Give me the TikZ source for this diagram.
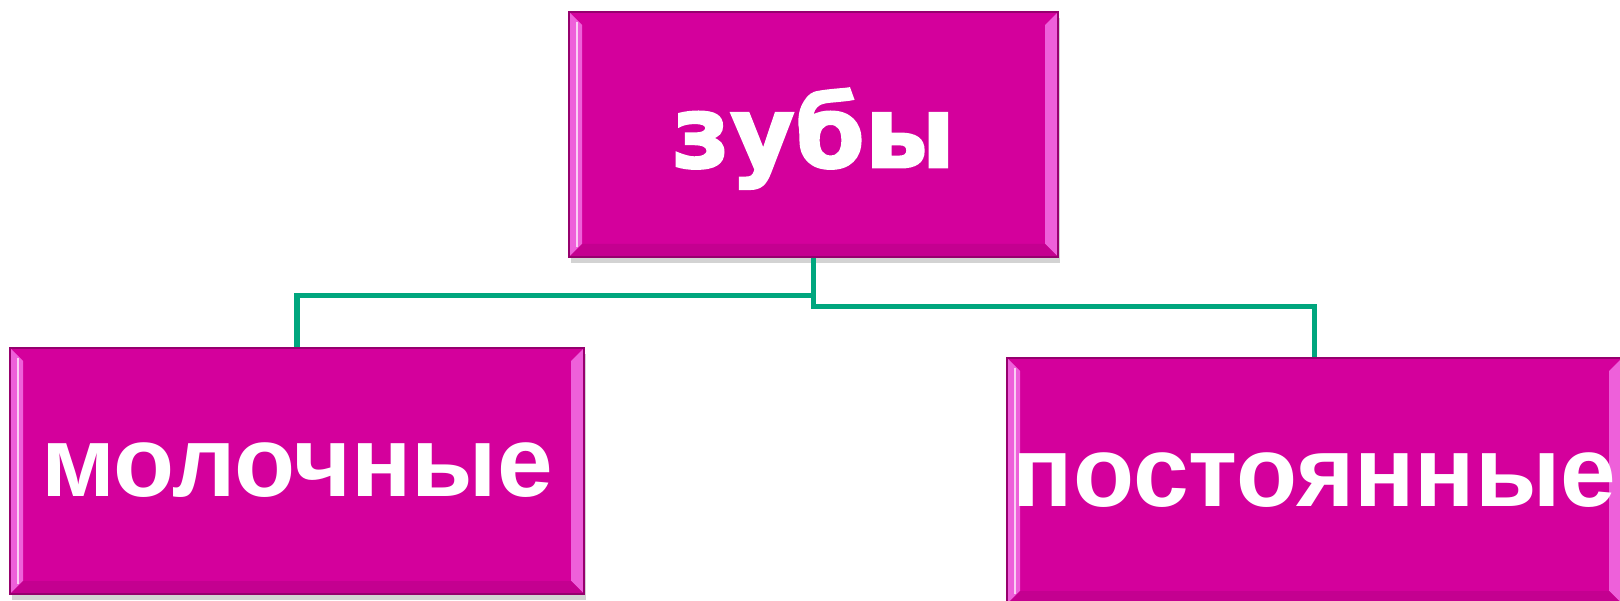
\documentclass[tikz,border=0pt]{standalone}
\usepackage{fontspec}
\setmainfont{Liberation Sans}
\newfontfamily\heavyfont[FakeBold=2]{DejaVu Sans Bold}
\usetikzlibrary{shadows}
\definecolor{boxpink}{RGB}{212,0,156}
\definecolor{boxedge}{RGB}{150,0,110}
\definecolor{bevellight}{RGB}{238,96,218}
\definecolor{beveldark}{RGB}{196,0,144}
\definecolor{linkgreen}{RGB}{0,166,126}
\tikzset{
  bevelbox/.style={rectangle, inner sep=0pt, fill=boxpink, draw=boxedge, line width=1.2pt,
    text=white, font=\fontsize{100}{100}\selectfont\bfseries, text height=52pt, text depth=0pt,
    drop shadow={shadow xshift=2pt, shadow yshift=-6pt, opacity=0.35},
    path picture={
      \fill[bevellight] (path picture bounding box.north west) -- ++(13,-13)
        -- ([shift={(13,13)}]path picture bounding box.south west) -- (path picture bounding box.south west) -- cycle;
      \fill[bevellight] (path picture bounding box.north east) -- ++(-13,-13)
        -- ([shift={(-13,13)}]path picture bounding box.south east) -- (path picture bounding box.south east) -- cycle;
      \fill[beveldark] (path picture bounding box.south west) -- ++(13,13)
        -- ([shift={(-13,13)}]path picture bounding box.south east) -- (path picture bounding box.south east) -- cycle;
      \draw[white!70!bevellight, line width=1.5pt] ([shift={(8,-10)}]path picture bounding box.north west)
        -- ([shift={(8,10)}]path picture bounding box.south west);
    }},
  link/.style={draw=linkgreen, line width=5.5pt}
}
\begin{document}
\begin{tikzpicture}[x=1pt,y=1pt]
  \useasboundingbox (0,0) rectangle (1620,600);
  \node[bevelbox, minimum width=489, minimum height=245, text height=66pt,
    font=\fontsize{100}{100}\selectfont\heavyfont] (zubi) at (813.5,465.5) {зубы};
  \node[bevelbox, minimum width=574, minimum height=246] (moloch) at (297,129) {молочные};
  \node[bevelbox, minimum width=615, minimum height=246] (postoy) at (1314.5,119) {постоянные};
  \draw[link] (zubi.south) -- ++(0,-38) -| (moloch.north);
  \draw[link] (zubi.south) -- ++(0,-49) -| (postoy.north);
\end{tikzpicture}
\end{document}
